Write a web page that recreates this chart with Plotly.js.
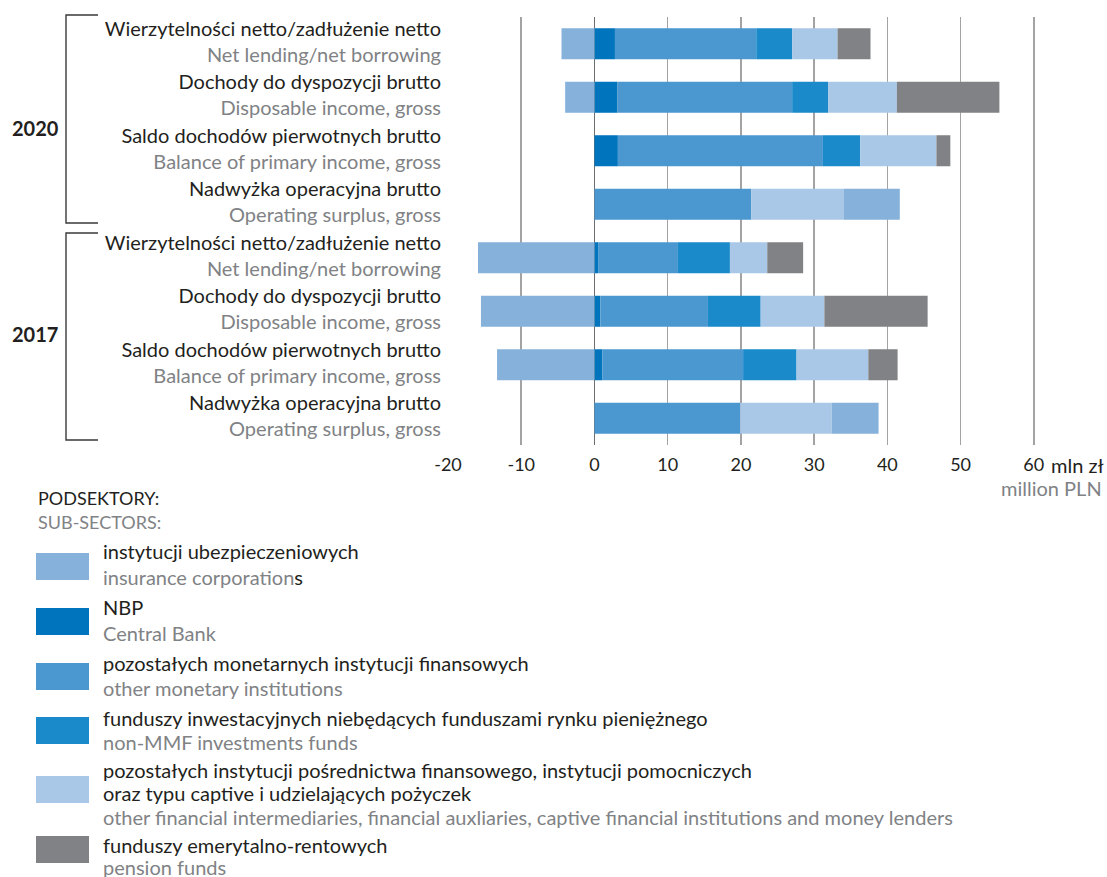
<!DOCTYPE html>
<html>
<head>
<meta charset="utf-8">
<script src="https://cdn.plot.ly/plotly-3.0.1.min.js"></script>
<style>html,body{margin:0;padding:0;background:#fff;}#chart{width:1107px;height:877px;}</style>
</head>
<body>
<div id="chart"></div>
<script>
// ---- DATA ----
var categories = ["2020-NL","2020-DI","2020-PI","2020-OS","2017-NL","2017-DI","2017-PI","2017-OS"];
var labelsPL = ["Wierzytelności netto/zadłużenie netto","Dochody do dyspozycji brutto","Saldo dochodów pierwotnych brutto","Nadwyżka operacyjna brutto",
                "Wierzytelności netto/zadłużenie netto","Dochody do dyspozycji brutto","Saldo dochodów pierwotnych brutto","Nadwyżka operacyjna brutto"];
var labelsEN = ["Net lending/net borrowing","Disposable income, gross","Balance of primary income, gross","Operating surplus, gross",
                "Net lending/net borrowing","Disposable income, gross","Balance of primary income, gross","Operating surplus, gross"];
var years = ["2020","2017"];

var nbp       = [2.8, 3.1, 3.2, 0, 0.5, 0.8, 1.1, 0];
var monetary  = [19.3, 23.9, 28.0, 21.4, 10.9, 14.7, 19.2, 19.9];
var nonMMF    = [4.9, 4.9, 5.1, 0, 7.1, 7.2, 7.3, 0];
var otherFin  = [6.2, 9.4, 10.4, 12.6, 5.1, 8.7, 9.8, 12.5];
var insurance = [-4.5, -4.0, 0, 7.7, -15.9, -15.5, -13.3, 6.4];
var pension   = [4.5, 14.0, 1.9, 0, 4.9, 14.1, 4.0, 0];

var xTickVals = [-20,-10,0,10,20,30,40,50,60];
var xTickText = ["-20","-10","0","10","20","30","40","50","60"];
var unitPL = "mln zł";
var unitEN = "million PLN";

var legendTitlePL = "PODSEKTORY:";
var legendTitleEN = "SUB-SECTORS:";
// legend entries in reference order
var legendKeys = ["insurance","nbp","monetary","nonMMF","otherFin","pension"];
var legendPL = [["instytucji ubezpieczeniowych"],["NBP"],["pozostałych monetarnych instytucji finansowych"],
  ["funduszy inwestacyjnych niebędących funduszami rynku pieniężnego"],
  ["pozostałych instytucji pośrednictwa finansowego, instytucji pomocniczych","oraz typu captive i udzielających pożyczek"],
  ["funduszy emerytalno-rentowych"]];
var legendEN = ["insurance corporation<span style='color:#231f20'>s</span>","Central Bank","other monetary institutions","non-MMF investments funds",
  "other financial intermediaries, financial auxliaries, captive financial institutions and money lenders","pension funds"];

// ---- STYLE ----
var colors = {insurance:"#86b1db", nbp:"#0075be", monetary:"#4b98d0", nonMMF:"#1a8aca", otherFin:"#a9c7e6", pension:"#818285"};
var series = {insurance:insurance, nbp:nbp, monetary:monetary, nonMMF:nonMMF, otherFin:otherFin, pension:pension};
var stackOrder = ["nbp","monetary","nonMMF","otherFin","insurance","pension"];
var FONT = "Lato, 'Open Sans', sans-serif";
var DARK = "#231f20", GRAY = "#808285";
var FS = 20;

var W = 1107, H = 877, ML = 448, MR = 71, MT = 17, MB = 432;
var PW = W - ML - MR, PH = H - MT - MB;
function px(x){ return (x - ML) / PW; }
function py(y){ return (H - MB - y) / PH; }

var traces = stackOrder.map(function(k){
  return {type:"bar", orientation:"h", y:categories, x:series[k], name:k,
    marker:{color:colors[k], line:{width:0}}, width:0.58, hoverinfo:"x+name", showlegend:false};
});

var tickText = categories.map(function(c,i){
  return labelsPL[i] + "<br><span style='color:" + GRAY + "'>" + labelsEN[i] + "</span>";
});

var shapes = [], annotations = [];
// year brackets
[[15,223,128],[233,440,334]].forEach(function(b,i){
  shapes.push({type:"path", xref:"paper", yref:"paper",
    path:"M "+px(98)+","+py(b[0])+" L "+px(66)+","+py(b[0])+" L "+px(66)+","+py(b[1])+" L "+px(98)+","+py(b[1]),
    line:{color:"#3a3a3a", width:1.4}});
  annotations.push({xref:"paper", yref:"paper", x:px(35), y:py(b[2]), text:"<b>"+years[i]+"</b>", showarrow:false,
    xanchor:"center", yanchor:"middle", font:{family:FONT, size:FS, color:DARK}});
});
// unit
annotations.push({xref:"paper", yref:"paper", x:px(1049), y:py(465), text:unitPL, showarrow:false, xanchor:"left", yanchor:"middle", font:{family:FONT,size:FS,color:DARK}});
annotations.push({xref:"paper", yref:"paper", x:px(1104), y:py(488), text:unitEN, showarrow:false, xanchor:"right", yanchor:"middle", font:{family:FONT,size:FS,color:GRAY}});
// legend title
annotations.push({xref:"paper", yref:"paper", x:px(36), y:py(498), text:legendTitlePL, showarrow:false, xanchor:"left", yanchor:"middle", font:{family:FONT,size:18,color:DARK}});
annotations.push({xref:"paper", yref:"paper", x:px(36), y:py(522), text:legendTitleEN, showarrow:false, xanchor:"left", yanchor:"middle", font:{family:FONT,size:18,color:GRAY}});
// legend entries
var swatchTop = [553,608,663,717,776,836];
var textLines = [[551,577],[607,633],[663,688],[718,742],[770,793,817],[845,867]];
legendKeys.forEach(function(k,i){
  shapes.push({type:"rect", xref:"paper", yref:"paper", x0:px(36), x1:px(89), y0:py(swatchTop[i]), y1:py(swatchTop[i]+27),
    fillcolor:colors[k], line:{width:0}});
  var lines = legendPL[i].concat([legendEN[i]]);
  lines.forEach(function(t,j){
    var isEN = j === lines.length-1;
    annotations.push({xref:"paper", yref:"paper", x:px(101), y:py(textLines[i][j]), text:t, showarrow:false,
      xanchor:"left", yanchor:"middle", font:{family:FONT, size:FS, color:isEN?GRAY:DARK}});
  });
});

var layout = {
  width:W, height:H, margin:{l:ML, r:MR, t:MT, b:MB, pad:0},
  paper_bgcolor:"#fff", plot_bgcolor:"#fff",
  barmode:"relative", showlegend:false,
  font:{family:FONT, size:FS, color:DARK},
  xaxis:{range:[-20,60.3], tickvals:xTickVals, ticktext:xTickText, showgrid:true, gridcolor:"#a3a3a3", gridwidth:1.5,
    zeroline:true, zerolinecolor:"#6d6e71", zerolinewidth:1.5, showline:false, ticks:"", ticklabelstandoff:7,
    tickfont:{family:FONT,size:18,color:DARK}, fixedrange:true},
  yaxis:{type:"category", categoryorder:"array", categoryarray:categories, autorange:"reversed",
    tickvals:categories, ticktext:tickText, showgrid:false, zeroline:false, showline:false, ticks:"",
    ticklabelstandoff:6, ticklabelshift:2, tickfont:{family:FONT,size:FS,color:DARK}, fixedrange:true},
  shapes:shapes, annotations:annotations
};

Plotly.newPlot("chart", traces, layout, {displayModeBar:false, staticPlot:true});
</script>
</body>
</html>
